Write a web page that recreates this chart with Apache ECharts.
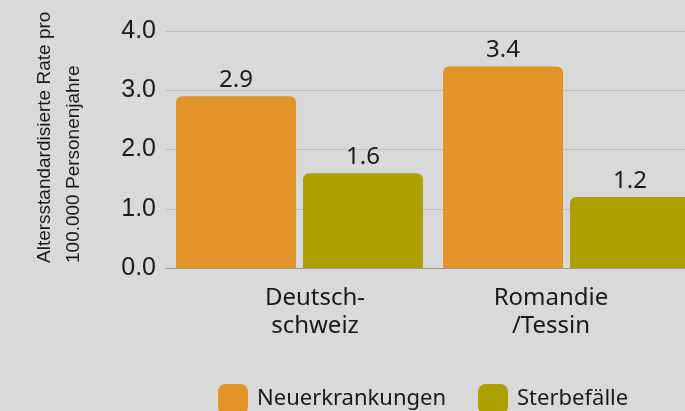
<!DOCTYPE html>
<html>
<head>
<meta charset="utf-8">
<script src="https://cdn.jsdelivr.net/npm/echarts@6/dist/echarts.min.js"></script>
<style>html,body{margin:0;padding:0;background:#d9d9d9;overflow:hidden;width:685px;height:411px;}#c{width:700px;height:411px;}</style>
</head>
<body>
<div id="c"></div>
<script>
const categories = ['Deutsch-\nschweiz', 'Romandie\n/Tessin'];
const seriesNames = ['Neuerkrankungen', 'Sterbefälle'];
const neuerkrankungen = [2.9, 3.4];
const sterbefaelle = [1.6, 1.2];
const yTicks = [0, 1, 2, 3, 4];
const yAxisTitle = 'Altersstandardisierte Rate pro\n100.000 Personenjahre';

const chart = echarts.init(document.getElementById('c'), null, {renderer: 'canvas'});
const labelFont = 'Noto Sans';
chart.setOption({
  backgroundColor: '#d9d9d9',
  animation: false,
  grid: {left: 166, top: 31, right: 0, bottom: 143, containLabel: false},
  legend: {
    left: 218, top: 384, padding: 0,
    itemWidth: 30, itemHeight: 30, itemGap: 32,
    icon: 'roundRect',
    textStyle: {fontFamily: labelFont, fontSize: 22, color: '#1a1a1a', padding: [0, 0, 0, 4]},
    data: seriesNames
  },
  xAxis: {
    type: 'category',
    data: categories,
    axisTick: {show: false},
    axisLine: {show: true, lineStyle: {color: '#9a9a9a', width: 1}},
    axisLabel: {
      margin: 16,
      interval: 0,
      formatter: function (v, i) {
        const lines = v.split('\n');
        const st = i === 0 ? 'l' : 'r';
        return lines.map(s => '{' + st + '|' + s + '}').join('\n');
      },
      rich: {
        l: {fontFamily: labelFont, fontSize: 24, color: '#1a1a1a', lineHeight: 28, padding: [0, 0, 0, 31]},
        r: {fontFamily: labelFont, fontSize: 24, color: '#1a1a1a', lineHeight: 28, padding: [0, 31, 0, 0]}
      }
    }
  },
  yAxis: {
    type: 'value',
    min: yTicks[0], max: yTicks[yTicks.length - 1], interval: 1,
    axisLine: {show: false},
    axisTick: {show: false},
    splitLine: {lineStyle: {color: '#bdbdbd', width: 1}},
    axisLabel: {
      margin: 10,
      fontFamily: 'Liberation Sans', fontSize: 25, color: '#1a1a1a',
      formatter: v => v.toFixed(1)
    }
  },
  graphic: [{
    type: 'text',
    x: 59, y: 263,
    rotation: Math.PI / 2,
    style: {
      text: yAxisTitle,
      fontFamily: 'Liberation Sans', fontSize: 19, lineHeight: 29,
      fill: '#1a1a1a', textAlign: 'left', textVerticalAlign: 'middle'
    }
  }],
  series: [
    {
      name: seriesNames[0], type: 'bar', data: neuerkrankungen,
      barWidth: 120, barGap: '5.8%',
      itemStyle: {color: '#e09426', borderRadius: [6, 6, 0, 0]},
      label: {show: true, position: 'top', distance: 4, fontFamily: labelFont, fontSize: 24, color: '#1a1a1a', formatter: p => p.value.toFixed(1)}
    },
    {
      name: seriesNames[1], type: 'bar', data: sterbefaelle,
      barWidth: 120,
      itemStyle: {color: '#aba000', borderRadius: [6, 6, 0, 0]},
      label: {show: true, position: 'top', distance: 4, fontFamily: labelFont, fontSize: 24, color: '#1a1a1a', formatter: p => p.value.toFixed(1)}
    }
  ]
});
</script>
</body>
</html>
